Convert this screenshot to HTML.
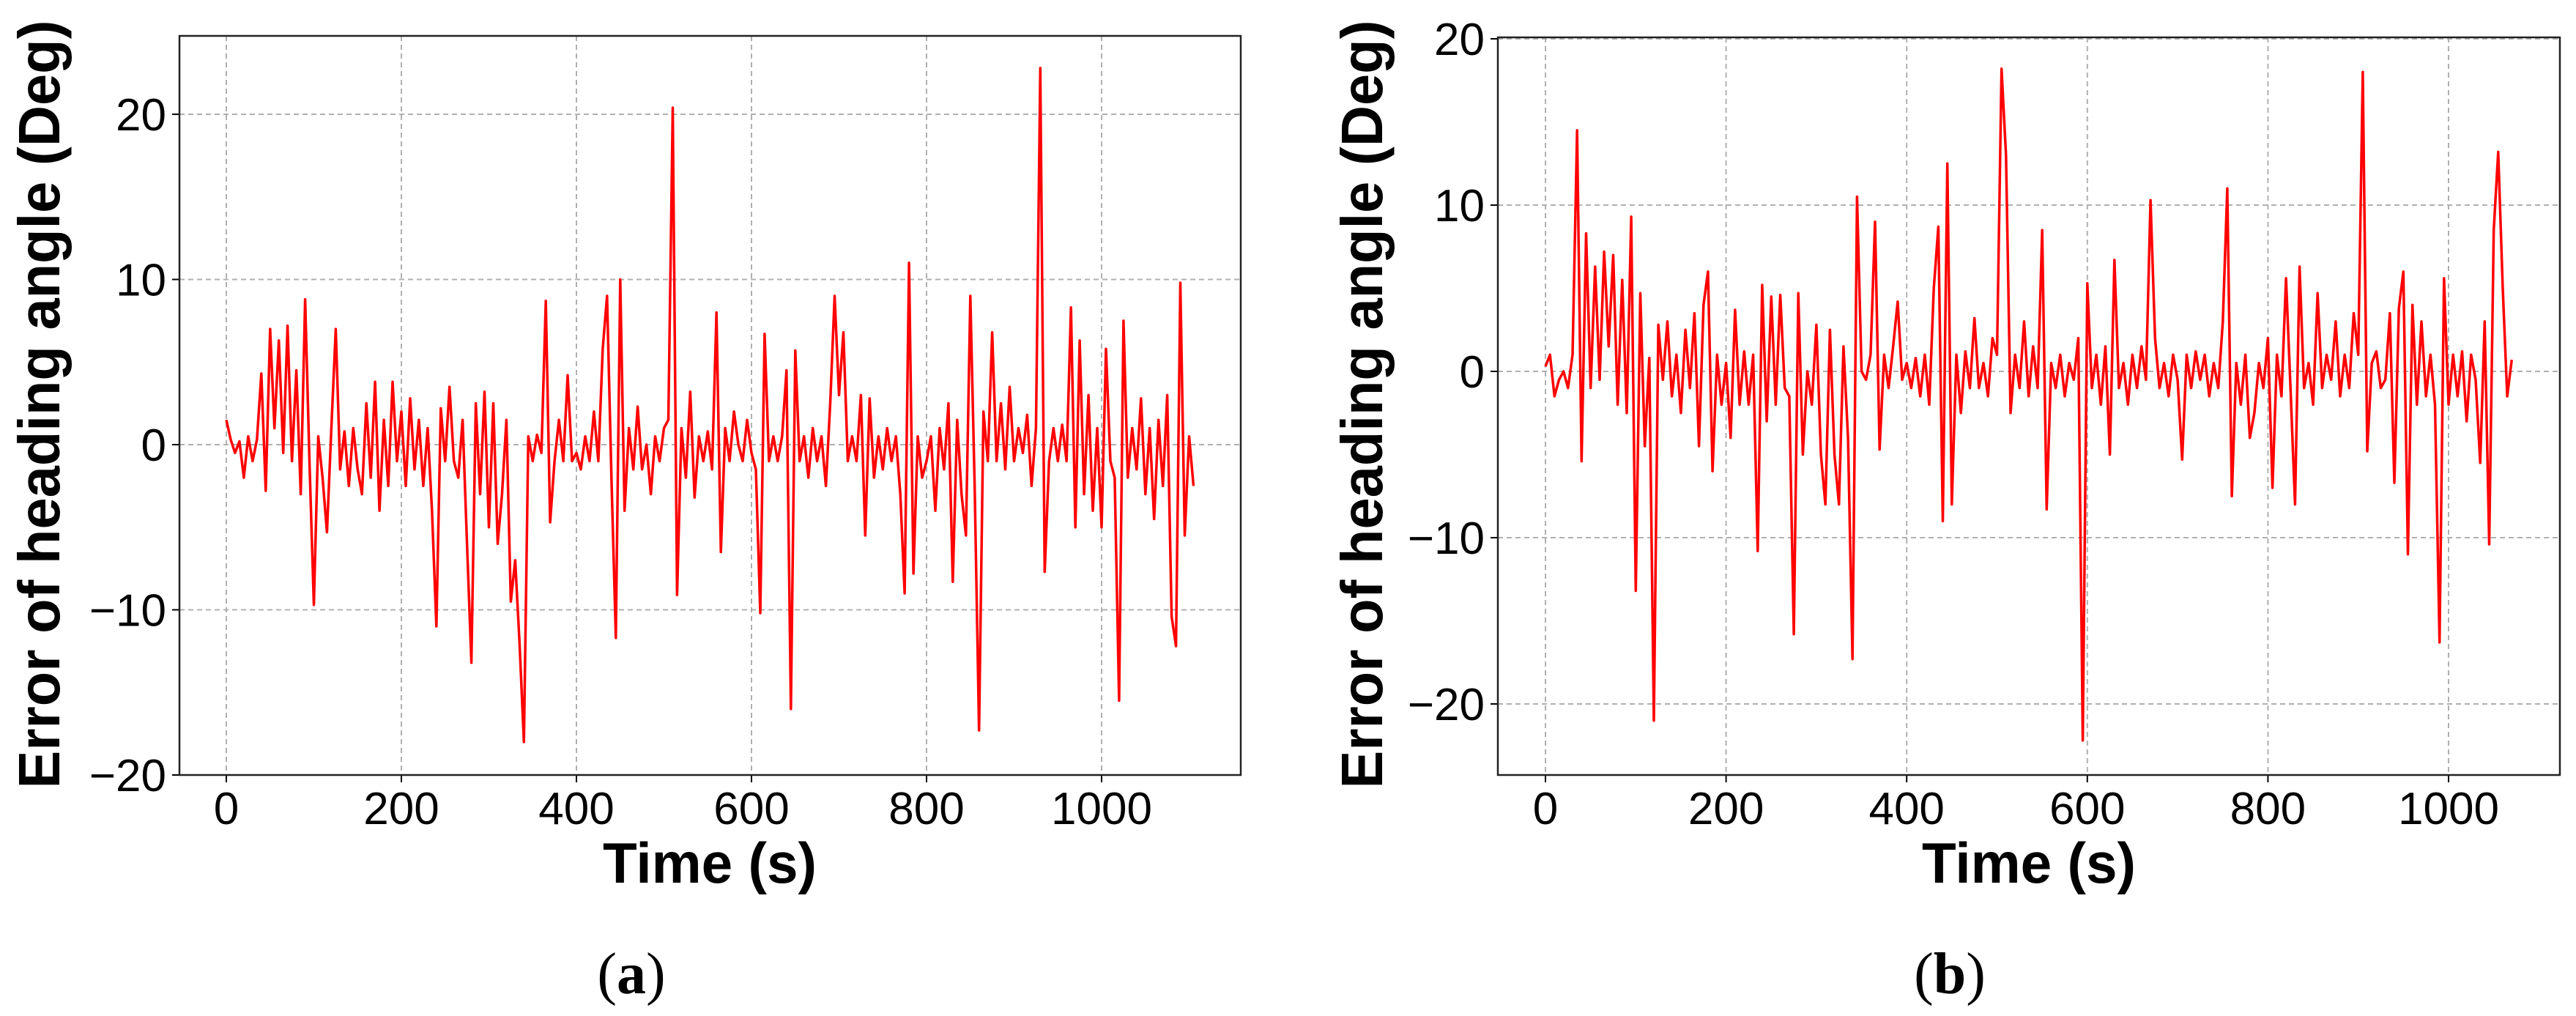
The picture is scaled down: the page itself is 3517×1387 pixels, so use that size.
<!DOCTYPE html>
<html><head><meta charset="utf-8"><style>
html,body{margin:0;padding:0;background:#fff;}
svg{display:block;font-family:"Liberation Sans",sans-serif;}
</style></head><body>
<svg id="fig" width="3517" height="1387" viewBox="0 0 3517 1387" xmlns="http://www.w3.org/2000/svg"></svg>
<script>
const timesA = [0,5,10,15,20,25,30,35,40,45,50,55,60,65,70,75,80,85,90,95,100,105,110,115,120,125,130,135,140,145,150,155,160,165,170,175,180,185,190,195,200,205,210,215,220,225,230,235,240,245,250,255,260,265,270,275,280,285,290,295,300,305,310,315,320,325,330,335,340,345,350,355,360,365,370,375,380,385,390,395,400,405,410,415,420,425,430,435,440,445,450,455,460,465,470,475,480,485,490,495,500,505,510,515,520,525,530,535,540,545,550,555,560,565,570,575,580,585,590,595,600,605,610,615,620,625,630,635,640,645,650,655,660,665,670,675,680,685,690,695,700,705,710,715,720,725,730,735,740,745,750,755,760,765,770,775,780,785,790,795,800,805,810,815,820,825,830,835,840,845,850,855,860,865,870,875,880,885,890,895,900,905,910,915,920,925,930,935,940,945,950,955,960,965,970,975,980,985,990,995,1000,1005,1010,1015,1020,1025,1030,1035,1040,1045,1050,1055,1060,1065,1070,1075,1080,1085,1090,1095,1100,1105];
const errorsA = [1.5,0.3,-0.5,0.2,-2,0.5,-1,0.3,4.3,-2.8,7,1,6.3,-0.5,7.2,-1,4.5,-3,8.8,-1,-9.7,0.5,-2,-5.3,1,7,-1.5,0.8,-2.5,1,-1.5,-3,2.5,-2,3.8,-4,1.5,-2.5,3.8,-1,2,-2.5,2.8,-1.5,1.5,-2.5,1,-4,-11,2.2,-1,3.5,-1,-2,1.5,-6,-13.2,2.5,-3,3.2,-5,2.5,-6,-3,1.5,-9.5,-7,-12,-18,0.5,-1,0.6,-0.5,8.7,-4.7,-1,1.5,-1,4.2,-1,-0.5,-1.5,0.5,-1,2,-1,5.8,9,-2,-11.7,10,-4,1,-1.5,2.3,-1.5,0,-3,0.5,-1,1,1.5,20.4,-9.1,1,-2,3.2,-3.2,0.5,-1,0.8,-1.5,8,-6.5,1,-1,2,0,-1,1.5,-0.5,-1.5,-10.2,6.7,-1,0.5,-1,0.5,4.5,-16,5.7,-1,0.5,-2,1,-1,0.5,-2.5,2.5,9,3,6.8,-1,0.5,-1,3,-5.5,2.8,-2,0.5,-1.5,1,-1,0.5,-3,-9,11,-7.8,0.5,-2,-1,0.5,-4,1,-1.5,2.5,-8.3,1.5,-3,-5.5,9,-2.5,-17.3,2,-1,6.8,-1,2.5,-1.5,3.5,-1,1,-0.5,1.8,-2.5,1,22.8,-7.7,-1,1,-1,1.2,-1,8.3,-5,6.3,-3,3,-4,1,-5,5.8,-1,-2,-15.5,7.5,-2,1,-1.5,2.8,-3,1,-4.5,1.5,-2.5,3,-10.4,-12.2,9.8,-5.5,0.5,-2.5];
const timesB = [0,5,10,15,20,25,30,35,40,45,50,55,60,65,70,75,80,85,90,95,100,105,110,115,120,125,130,135,140,145,150,155,160,165,170,175,180,185,190,195,200,205,210,215,220,225,230,235,240,245,250,255,260,265,270,275,280,285,290,295,300,305,310,315,320,325,330,335,340,345,350,355,360,365,370,375,380,385,390,395,400,405,410,415,420,425,430,435,440,445,450,455,460,465,470,475,480,485,490,495,500,505,510,515,520,525,530,535,540,545,550,555,560,565,570,575,580,585,590,595,600,605,610,615,620,625,630,635,640,645,650,655,660,665,670,675,680,685,690,695,700,705,710,715,720,725,730,735,740,745,750,755,760,765,770,775,780,785,790,795,800,805,810,815,820,825,830,835,840,845,850,855,860,865,870,875,880,885,890,895,900,905,910,915,920,925,930,935,940,945,950,955,960,965,970,975,980,985,990,995,1000,1005,1010,1015,1020,1025,1030,1035,1040,1045,1050,1055,1060,1065,1070];
const errorsB = [0.3,1,-1.5,-0.5,0,-1,1,14.5,-5.4,8.3,-1,6.3,-0.5,7.2,1.5,7,-2,5.5,-2.5,9.3,-13.2,4.7,-4.5,0.8,-21,2.8,-0.5,3,-1.5,1,-2.5,2.5,-1,3.5,-4.5,4,6,-6,1,-2,0.5,-4,3.7,-2,1.2,-2,1,-10.8,5.2,-3,4.5,-2,4.6,-1,-1.5,-15.8,4.7,-5,0,-2,2.8,-5,-8,2.5,-5,-8,1.5,-4,-17.3,10.5,0,-0.5,1,9,-4.7,1,-1,1.5,4.2,-0.5,0.5,-1,0.8,-1.5,1,-2,5,8.7,-9,12.5,-8,1,-2.5,1.2,-1,3.2,-1,0.5,-1.5,2,1,18.2,13,-2.5,1,-1,3,-1.5,1.5,-1,8.5,-8.3,0.5,-1,1,-1.5,0.5,-0.5,2,-22.2,5.3,-1,1,-2,1.5,-5,6.7,-1,0.5,-2,1,-1,1.5,-0.5,10.3,2,-1,0.5,-1.5,1,-0.5,-5.3,1,-1,1.2,-0.5,1,-1.5,0.5,-1,3,11,-7.5,0.5,-2,1,-4,-2.5,0.5,-1,2,-7,1,-1.5,5.6,-1,-8,6.3,-1,0.5,-2,4.7,-1,1,-0.5,3,-1.5,1,-1,3.5,1,18,-4.8,0.5,1.2,-1,-0.5,3.5,-6.7,3.8,6,-11,4,-2,3,-1.5,1,-2,-16.3,5.6,-2,1,-1.5,1.2,-3,1,-0.5,-5.5,3,-10.4,8.5,13.2,5,-1.5,0.7];
const xTicks = [0,200,400,600,800,1000];
const yTicksA = [-20,-10,0,10,20];
const yTicksB = [-20,-10,0,10,20];

const NS = "http://www.w3.org/2000/svg";
const svg = document.getElementById('fig');
function el(tag, attrs, parent){
  const e = document.createElementNS(NS, tag);
  for (const k in attrs) e.setAttribute(k, attrs[k]);
  (parent||svg).appendChild(e);
  return e;
}

function panel(cfg){
  const g = el('g', {});
  
  
  const xs = v => cfg.x0 + (v - 0) * (cfg.x1000 - cfg.x0) / 1000;
  const ys = v => cfg.y0 - v * cfg.py;
  cfg.xt.forEach(t => {
    const l = el('line', {x1:xs(t), x2:xs(t), y1:cfg.top, y2:cfg.bottom, stroke:'#b0b0b0', 'stroke-width':2, 'stroke-dasharray':'7,5'}, g);
    
    
    el('line', {x1:xs(t), x2:xs(t), y1:cfg.bottom, y2:cfg.bottom+10, stroke:'#000', 'stroke-width':2}, g);
    const tx = el('text', {x:xs(t), y:1125, 'text-anchor':'middle', 'font-size':62, fill:'#000'}, g);
    tx.textContent = t;
    
    
  });
  cfg.yt.forEach(t => {
    const l = el('line', {x1:cfg.left, x2:cfg.right, y1:ys(t), y2:ys(t), stroke:'#b0b0b0', 'stroke-width':2, 'stroke-dasharray':'7,5'}, g);
    
    
    el('line', {x1:cfg.left-10, x2:cfg.left, y1:ys(t), y2:ys(t), stroke:'#000', 'stroke-width':2}, g);
    const tx = el('text', {x:cfg.left-18, y:ys(t)+22, 'text-anchor':'end', 'font-size':62, fill:'#000'}, g);
    tx.textContent = (t < 0 ? '\u2212' + Math.abs(t) : t);
    
    
  });
  let d = '';
  cfg.t.forEach((t, i) => { d += (i ? 'L' : 'M') + xs(t).toFixed(1) + ',' + ys(cfg.v[i]).toFixed(1); });
  const p = el('path', {d:d, fill:'none', stroke:'#ff0000', 'stroke-width':3.5, 'stroke-linejoin':'round'}, g);
  
  
  const f = el('rect', {x:cfg.left, y:cfg.top, width:cfg.right-cfg.left, height:cfg.bottom-cfg.top, fill:'none', stroke:'#222', 'stroke-width':2.5}, g);
  
  
  const xl = el('text', {x:cfg.xlabelX, y:1205, 'text-anchor':'middle', 'font-size':78, 'font-weight':'bold', textLength:292, lengthAdjust:'spacingAndGlyphs'}, g);
  xl.textContent = 'Time (s)';
  
  
  const yl = el('text', {x:0, y:0, 'text-anchor':'middle', 'font-size':80, 'font-weight':'bold', textLength:1049, lengthAdjust:'spacingAndGlyphs', transform:'translate(' + (cfg.ylabelX+29) + ',' + cfg.ylabelY + ') rotate(-90)'}, g);
  yl.textContent = 'Error of heading angle (Deg)';
  
  
  const cap = el('text', {x:cfg.capX, y:1356, 'text-anchor':'middle', 'font-size':80, 'font-family':'Liberation Serif, serif'}, g);
  cap.innerHTML = '(<tspan font-weight="bold">' + cfg.cap + '</tspan>)';
  
  
}

panel({name:'panel-a', left:245, right:1694, top:49, bottom:1058, x0:309, x1000:1504, y0:607, py:22.55,
  xt:xTicks, yt:yTicksA, t:timesA, v:errorsA, xlabelX:969, ylabelX:52, ylabelY:552, capX:862, cap:'a'});
panel({name:'panel-b', left:2045, right:3495, top:51, bottom:1058, x0:2110, x1000:3343, y0:507, py:22.7,
  xt:xTicks, yt:yTicksB, t:timesB, v:errorsB, xlabelX:2770, ylabelX:1858, ylabelY:552, capX:2662, cap:'b'});
</script>
</body></html>
